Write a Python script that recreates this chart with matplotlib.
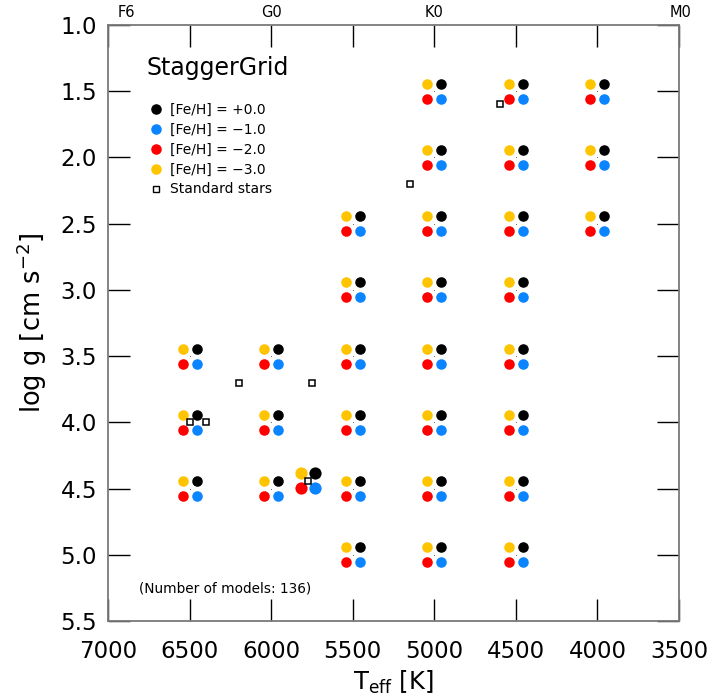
import matplotlib
matplotlib.use("Agg")
import matplotlib.pyplot as plt
import matplotlib.transforms as mtransforms
from matplotlib.lines import Line2D

# grid points (Teff, log g)
teff = [4000, 4000, 4000,
        4500, 4500, 4500, 4500, 4500, 4500, 4500, 4500,
        5000, 5000, 5000, 5000, 5000, 5000, 5000, 5000,
        5500, 5500, 5500, 5500, 5500, 5500,
        6000, 6000, 6000,
        6500, 6500, 6500]
logg = [1.5, 2.0, 2.5,
        1.5, 2.0, 2.5, 3.0, 3.5, 4.0, 4.5, 5.0,
        1.5, 2.0, 2.5, 3.0, 3.5, 4.0, 4.5, 5.0,
        2.5, 3.0, 3.5, 4.0, 4.5, 5.0,
        3.5, 4.0, 4.5,
        3.5, 4.0, 4.5]

# solar model
sun_teff = [5777]
sun_logg = [4.44]

# metallicities
feh = [0.0, -1.0, -2.0, -3.0]
feh_labels = ["[Fe/H] = +0.0", "[Fe/H] = \u22121.0", "[Fe/H] = \u22122.0", "[Fe/H] = \u22123.0"]
feh_colors = ["#000000", "#0a84ff", "#ff0000", "#ffc400"]
# pixel offsets of each metallicity marker around the grid point
feh_dx = [7, 7, -7, -7]
feh_dy = [7.5, -7.5, -7.5, 7.5]

# standard stars
std_teff = [6500, 6400, 6200, 5750, 5777, 5150, 4600]
std_logg = [4.0, 4.0, 3.7, 3.7, 4.44, 2.2, 1.6]

# spectral types on top axis
sp_names = ["F6", "G0", "K0", "M0"]
sp_teff = [6890, 6000, 5000, 3490]

xticks = [7000, 6500, 6000, 5500, 5000, 4500, 4000, 3500]
yticks = [1.0, 1.5, 2.0, 2.5, 3.0, 3.5, 4.0, 4.5, 5.0, 5.5]

fig = plt.figure(figsize=(7.12, 7.0), dpi=100)
ax = fig.add_axes([108/712, 1 - 621/700, 571/712, 596/700])

ax.set_xlim(7000, 3500)
ax.set_ylim(5.5, 1.0)

for i in range(len(feh)):
    tr = mtransforms.offset_copy(ax.transData, fig=fig, x=feh_dx[i], y=feh_dy[i], units='dots')
    ax.plot(teff, logg, 'o', ms=7.6, mec='none', color=feh_colors[i], transform=tr)
    ax.plot(sun_teff, sun_logg, 'o', ms=8.8, mec='none', color=feh_colors[i], transform=tr)

ax.plot(teff, logg, '.', ms=1.5, color='#555555', mec='none')
ax.plot(std_teff, std_logg, 's', ms=4.6, mfc='white', mec='black', mew=1.1)

ax.set_xticks(xticks)
ax.set_xticklabels([str(t) for t in xticks])
ax.set_yticks(yticks)
ax.set_yticklabels(["%.1f" % v for v in yticks])
ax.tick_params(direction='in', length=16, width=1.0, color='black',
               top=True, right=True, labelsize=16.5)
ax.tick_params(axis='x', pad=14)
ax.tick_params(axis='y', pad=8)
for s in ax.spines.values():
    s.set_color('#7a7a7a')
    s.set_linewidth(1.3)

blend = mtransforms.blended_transform_factory(ax.transData, ax.transAxes)
for name, t in zip(sp_names, sp_teff):
    ax.text(t, 1.009, name, transform=blend, ha='center', va='bottom', fontsize=10.5)

ax.set_xlabel(r"T$_{\rm eff}$ [K]", fontsize=17.5, labelpad=4)
ax.set_ylabel(r"log g [cm s$^{-2}$]", fontsize=18.5, labelpad=8)

ax.text(0.068, 0.928, "StaggerGrid", transform=ax.transAxes, fontsize=17,
        ha='left', va='center')

handles = [Line2D([], [], ls='none', marker='o', ms=7.6, mec='none', color=c)
           for c in feh_colors]
handles.append(Line2D([], [], ls='none', marker='s', ms=4, mfc='white', mec='black', mew=1.0))
ax.legend(handles, feh_labels + ["Standard stars"], loc='upper left',
          bbox_to_anchor=(0.072, 0.869), frameon=False, fontsize=10,
          handlelength=1.0, handletextpad=0.5, labelspacing=0.42, borderpad=0,
          borderaxespad=0)

ax.text(0.054, 0.055, "(Number of models: 136)", transform=ax.transAxes,
        fontsize=9.8, ha='left', va='center')

fig.savefig("out.png", dpi=100)
